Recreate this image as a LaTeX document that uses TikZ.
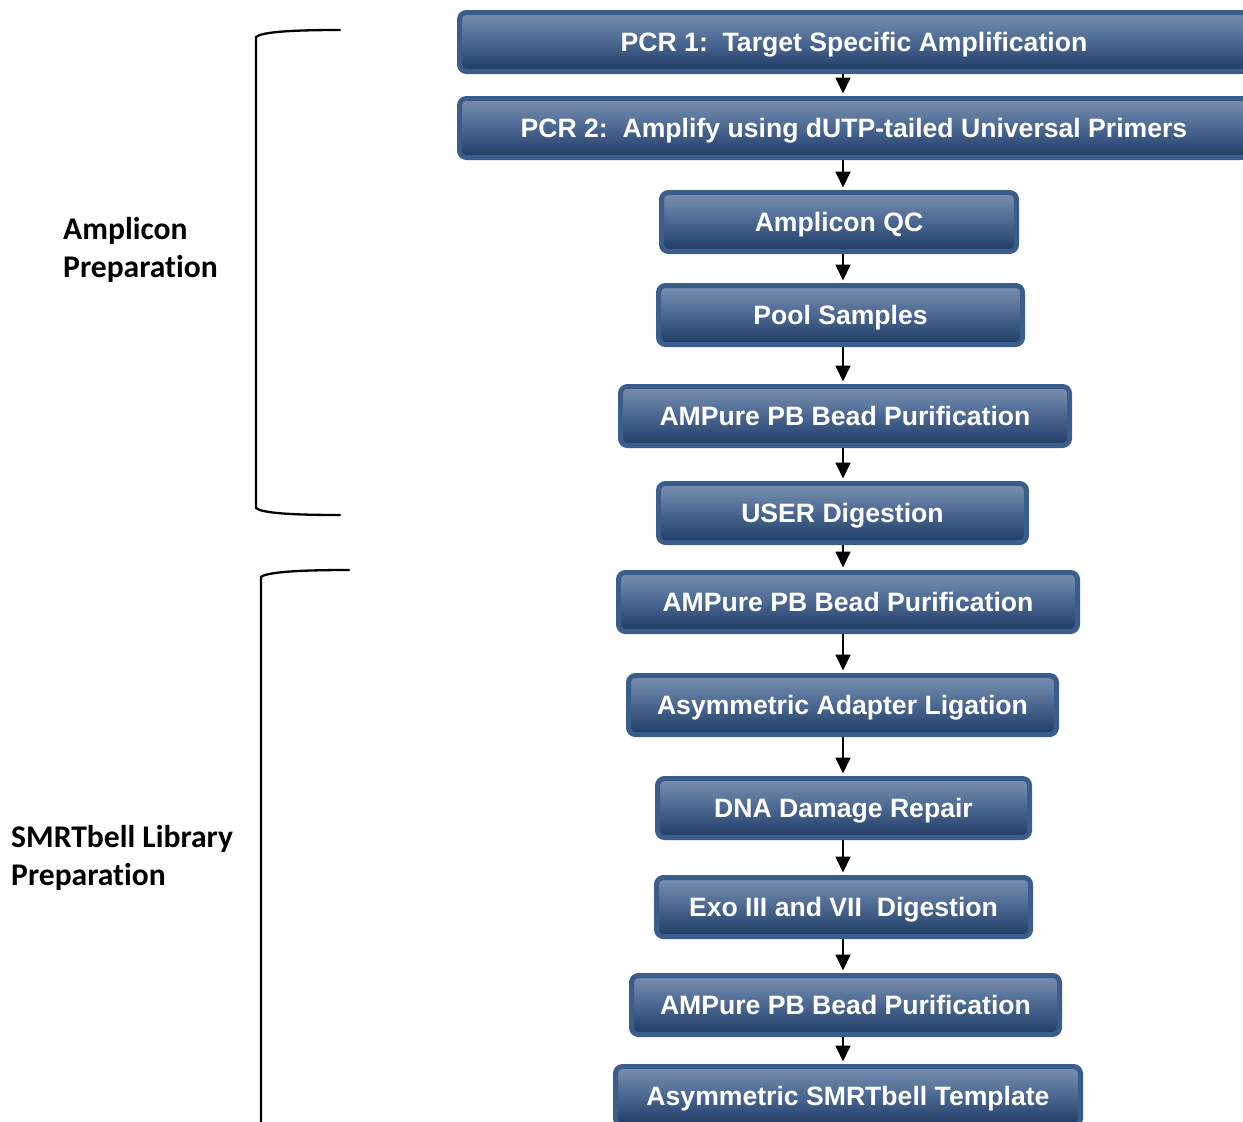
\documentclass[tikz,border=0pt]{standalone}
\usepackage{fontspec}
\setmainfont{Liberation Sans}
\newfontfamily\boxfont{Liberation Sans}
\newfontfamily\lblfont[Ligatures=CommonOff]{Carlito}
\usetikzlibrary{arrows.meta}
\definecolor{bordblue}{HTML}{3B5D8C}
\definecolor{topblue}{HTML}{7A90B1}
\definecolor{midblue}{HTML}{4A6791}
\definecolor{botblue}{HTML}{1F3B64}
\tikzset{
  stepbox/.style={draw=bordblue, line width=5pt, rounded corners=7pt,
    top color=topblue, bottom color=botblue, middle color=midblue,
    minimum height=59pt, inner sep=0pt, text=white,
    font=\boxfont\bfseries\fontsize{26.6}{30}\selectfont,
    text height=19pt, text depth=0pt},
  arr/.style={line width=1.8pt, -{Triangle[width=15pt,length=16pt]}, shorten >=2.5pt},
  brace/.style={line width=2.3pt, line cap=round},
  lbl/.style={font=\lblfont\bfseries\fontsize{31.6}{38}\selectfont, align=left, inner sep=0pt, anchor=base west}
}
\begin{document}
\begin{tikzpicture}[x=1pt,y=-1pt]
\useasboundingbox (0,0) rectangle (1243,1122);
\clip (0,0) rectangle (1243,1122);
\coordinate (ax) at (843,0);
\node[stepbox, minimum width=789pt] (b1) at (854,42) {PCR 1:\ \ Target Specific Amplification};
\node[stepbox, minimum width=789pt] (b2) at (854,128) {PCR 2:\ \ Amplify using dUTP-tailed Universal Primers};
\node[stepbox, minimum width=355pt] (b3) at (839,222) {Amplicon QC};
\node[stepbox, minimum width=364pt] (b4) at (840.5,315) {Pool Samples};
\node[stepbox, minimum width=449pt] (b5) at (845,416) {AMPure PB Bead Purification};
\node[stepbox, minimum width=368pt] (b6) at (842.5,513) {USER Digestion};
\node[stepbox, minimum width=459pt] (b7) at (848,602) {AMPure PB Bead Purification};
\node[stepbox, minimum width=428pt] (b8) at (842.5,705) {Asymmetric Adapter Ligation};
\node[stepbox, minimum width=372pt] (b9) at (843.5,808) {DNA Damage Repair};
\node[stepbox, minimum width=374pt] (b10) at (843.5,907) {Exo III and VII\ \ Digestion};
\node[stepbox, minimum width=428pt] (b11) at (845.5,1005) {AMPure PB Bead Purification};
\node[stepbox, minimum width=465pt] (b12) at (848,1096) {Asymmetric SMRTbell Template};
\foreach \a/\b in {b1/b2,b2/b3,b3/b4,b4/b5,b5/b6,b6/b7,b7/b8,b8/b9,b9/b10,b10/b11,b11/b12}
  \draw[arr] (\a.south -| ax) -- (\b.north -| ax);
\draw[brace] (340,30) .. controls (290,30) and (262,32) .. (256,37) -- (256,508) .. controls (262,513) and (290,515) .. (340,515);
\draw[brace] (349,570) .. controls (299,570) and (267,572) .. (261,577) -- (261,1130);
\node[lbl] (l1) at (63,277) {Amplicon\\Preparation};
\node[lbl] (l2) at (11,885) {SMRTbell Library\\Preparation};
\end{tikzpicture}
\end{document}
